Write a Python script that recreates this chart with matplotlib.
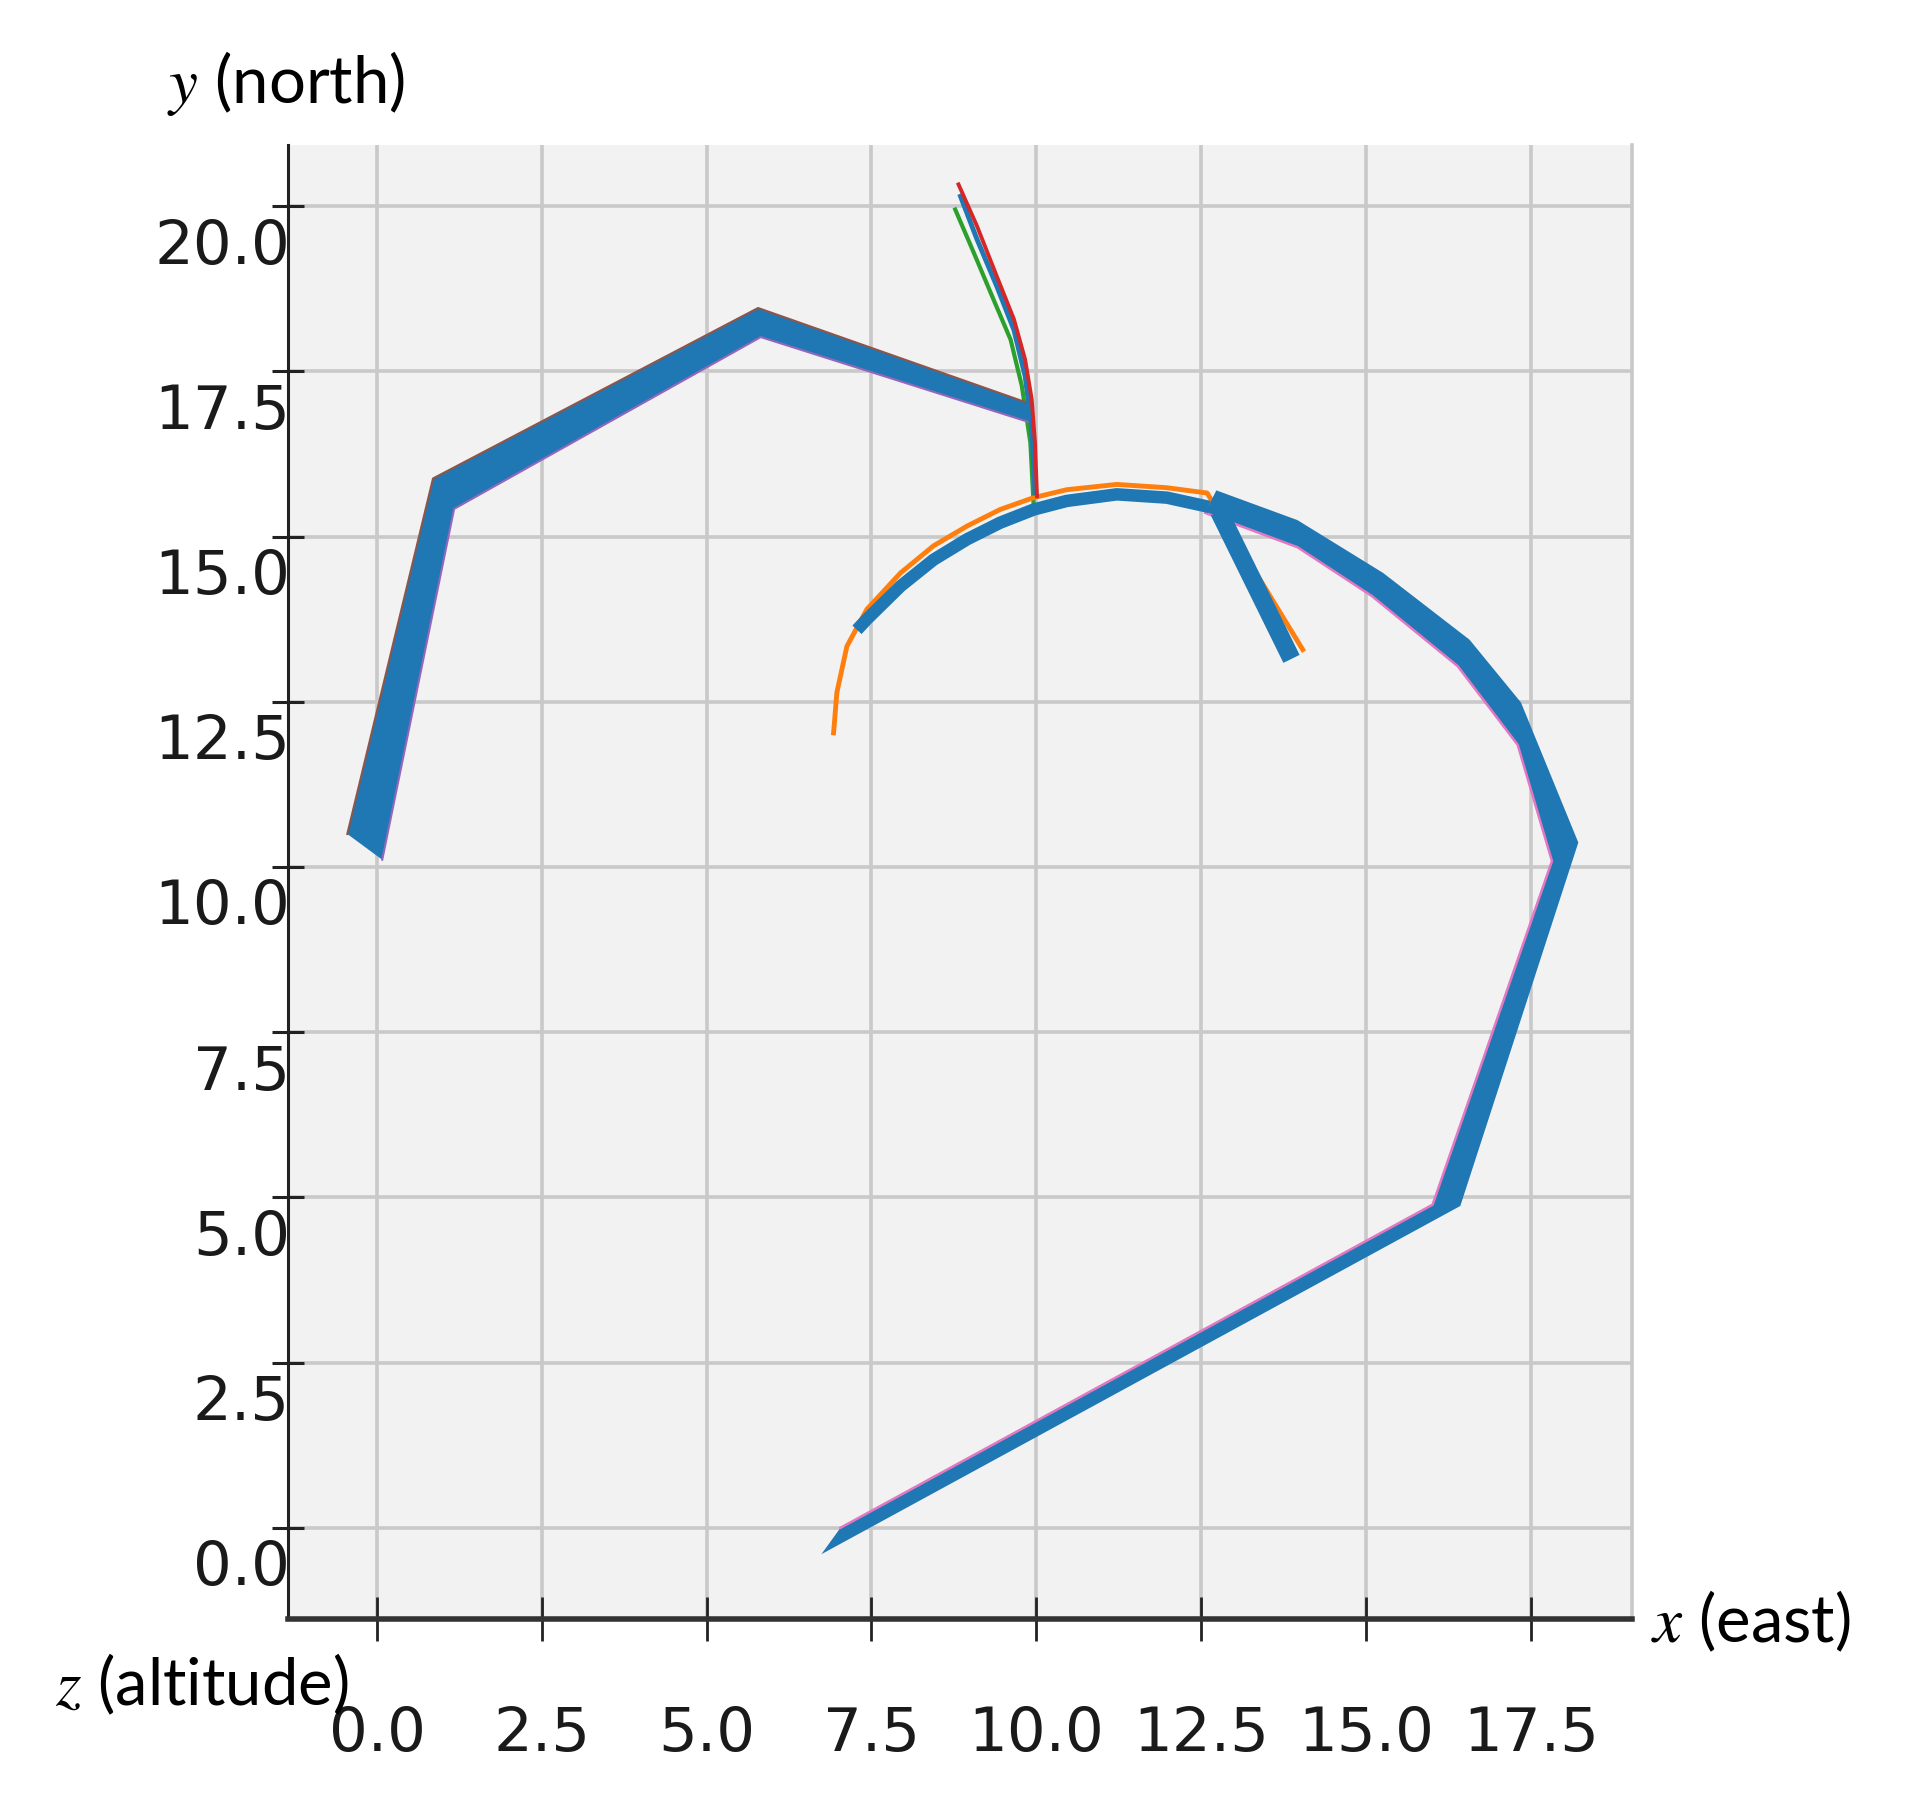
import matplotlib
matplotlib.use('Agg')
import matplotlib.pyplot as plt
import matplotlib.transforms as mtransforms
import numpy as np

plt.rcParams['font.family'] = 'DejaVu Sans'
plt.rcParams['mathtext.fontset'] = 'stix'

# ticks
x_ticks = [0.0, 2.5, 5.0, 7.5, 10.0, 12.5, 15.0, 17.5]
y_ticks = [0.0, 2.5, 5.0, 7.5, 10.0, 12.5, 15.0, 17.5, 20.0]

# western route, drawn as a band (upper edge / lower edge)
west_top_x = [-0.45, 0.85, 5.78, 9.85]
west_top_y = [10.50, 15.88, 18.46, 17.03]
west_bot_x = [0.08, 1.17, 5.82, 9.93]
west_bot_y = [10.11, 15.42, 18.02, 16.72]

# eastern route band (outer edge / inner edge)
east_out_x = [6.74, 16.43, 18.22, 17.35, 16.57, 15.26, 13.96, 12.73]
east_out_y = [-0.40, 4.87, 10.37, 12.49, 13.44, 14.45, 15.25, 15.70]
east_in_x = [7.03, 16.01, 17.82, 17.30, 16.39, 15.09, 13.96, 12.56]
east_in_y = [0.00, 4.89, 10.09, 11.85, 13.04, 14.10, 14.84, 15.36]

# blue arc and branch
arc_x = [7.28, 7.43, 7.94, 8.44, 8.95, 9.45, 9.96, 10.46, 11.22, 11.98, 12.62]
arc_y = [13.59, 13.75, 14.25, 14.65, 14.96, 15.21, 15.41, 15.54, 15.64, 15.59, 15.45]
branch_x = [12.77, 13.87]
branch_y = [15.38, 13.15]

# orange path
orange_x = [6.925, 6.975, 7.127, 7.43, 7.94, 8.44, 8.95, 9.45, 9.96, 10.46, 11.22,
            11.98, 12.59, 14.04]
orange_y = [12.03, 12.64, 13.34, 13.90, 14.45, 14.86, 15.16, 15.41, 15.59, 15.71, 15.79,
            15.74, 15.66, 13.29]

# thin northern paths
green_x = [8.77, 9.05, 9.35, 9.61, 9.78, 9.91, 9.96]
green_y = [19.95, 19.30, 18.59, 17.98, 17.28, 16.42, 15.46]
blue_x = [8.85, 9.10, 9.40, 9.66, 9.83, 9.93, 9.98]
blue_y = [20.15, 19.50, 18.79, 18.13, 17.43, 16.67, 15.66]
red_x = [8.82, 9.10, 9.40, 9.66, 9.83, 9.93, 9.98, 10.01]
red_y = [20.33, 19.70, 18.94, 18.29, 17.68, 17.08, 16.42, 15.61]

fig = plt.figure(figsize=(19.07, 18.08), dpi=100)
ax = fig.add_axes([0.151, 0.104, 0.705, 0.815])
ax.set_facecolor('#f2f2f2')
ax.set_xlim(-1.35, 19.04)
ax.set_ylim(-1.38, 20.92)

# grid
ax.set_axisbelow(True)
ax.grid(True, color='#c9c9c9', lw=2.6)

# thin northern lines (green under the band)
ax.plot(green_x, green_y, color='#2ca02c', lw=3, zorder=2)

# western band
ax.fill(np.r_[west_top_x, west_bot_x[::-1]], np.r_[west_top_y, west_bot_y[::-1]],
        color='#1f77b4', lw=0, zorder=3)
ax.plot(west_top_x, west_top_y, color='#8c564b', lw=1.5, zorder=3)
ax.plot(west_bot_x, west_bot_y, color='#9467bd', lw=1.5, zorder=3)

# eastern band
ax.fill(np.r_[east_out_x, east_in_x[::-1]], np.r_[east_out_y, east_in_y[::-1]],
        color='#1f77b4', lw=0, zorder=3)
ax.plot(east_in_x, east_in_y, color='#e377c2', lw=1.8, zorder=3)

ax.plot(orange_x, orange_y, color='#ff7f0e', lw=3.5, zorder=2.5)
ax.plot(arc_x, arc_y, color='#1f77b4', lw=9, zorder=3, solid_capstyle='butt')
ax.plot(branch_x, branch_y, color='#1f77b4', lw=13, zorder=3, solid_capstyle='butt')

ax.plot(blue_x, blue_y, color='#1f77b4', lw=3.5, zorder=4)
ax.plot(red_x, red_y, color='#d62728', lw=2.8, zorder=4)

# axes frame
ax.spines['top'].set_visible(False)
ax.spines['right'].set_color('#c9c9c9')
ax.spines['right'].set_linewidth(2.6)
ax.spines['left'].set_color('#222222')
ax.spines['left'].set_linewidth(2.2)
ax.spines['bottom'].set_color('#333333')
ax.spines['bottom'].set_linewidth(4)

ax.set_xticks(x_ticks)
ax.set_xticklabels([f'{v:.1f}' for v in x_ticks])
ax.set_yticks(y_ticks)
ax.set_yticklabels([f'{v:.1f}' for v in y_ticks])
ax.tick_params(axis='x', direction='inout', length=32, width=2, color='#222222',
               pad=45, labelsize=44, labelcolor='#1a1a1a')
ax.tick_params(axis='y', direction='inout', length=23, width=2.2, color='#222222',
               pad=-13, labelsize=44, labelcolor='#1a1a1a')

offset = mtransforms.ScaledTranslation(0, -24 / 72, fig.dpi_scale_trans)
for lab in ax.get_yticklabels():
    lab.set_transform(lab.get_transform() + offset)

# axis names
lab_font = dict(fontsize=47, family='Lato', va='center', color='black')
fig.text(167 / 1907, 1 - 83 / 1808, '$y$ (north)', **lab_font)
fig.text(1651 / 1907, 1 - 1621 / 1808, '$x$ (east)', **lab_font)
fig.text(55 / 1907, 1 - 1684 / 1808, '$z$ (altitude)', **lab_font)

fig.savefig('out.png', dpi=100)
